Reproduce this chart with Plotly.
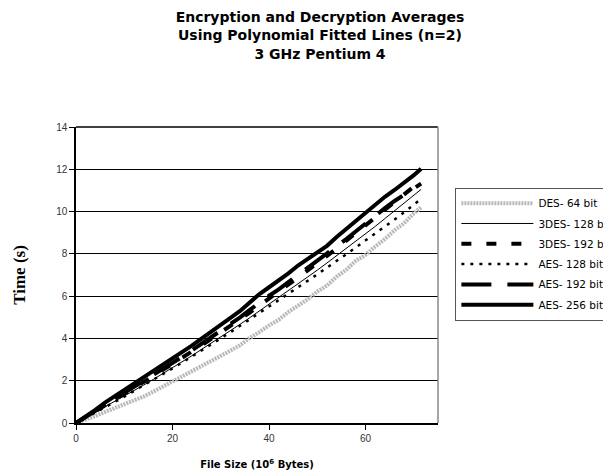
import plotly.graph_objects as go

# ---- data ----
file_size = [0, 2, 4, 6, 8, 10, 12, 14, 16, 18, 20, 22, 24, 26, 28, 30, 32, 34, 36,
             38, 40, 42, 44, 46, 48, 50, 52, 54, 56, 58, 60, 62, 64, 66, 68, 70, 71.5]

des_64 = [0.00, 0.15, 0.33, 0.52, 0.70, 0.86, 1.05, 1.25, 1.48, 1.72, 1.95, 2.18, 2.43,
          2.66, 2.92, 3.15, 3.42, 3.68, 4.02, 4.30, 4.62, 4.88, 5.25, 5.55, 5.85, 6.22,
          6.50, 6.92, 7.25, 7.68, 7.95, 8.35, 8.70, 9.12, 9.45, 9.92, 10.20]

des3_128 = [0.00, 0.25, 0.50, 0.75, 1.00, 1.27, 1.53, 1.79, 2.06, 2.33, 2.62, 2.90, 3.18,
            3.48, 3.77, 4.06, 4.35, 4.67, 4.98, 5.30, 5.62, 5.92, 6.24, 6.58, 6.90, 7.23,
            7.57, 7.91, 8.25, 8.60, 8.96, 9.30, 9.67, 10.04, 10.40, 10.78, 11.05]

des3_192 = [0.00, 0.27, 0.55, 0.83, 1.10, 1.38, 1.66, 1.94, 2.22, 2.50, 2.80, 3.08, 3.37,
            3.67, 3.98, 4.28, 4.58, 4.90, 5.22, 5.56, 5.88, 6.20, 6.54, 6.88, 7.22, 7.55,
            7.90, 8.25, 8.62, 8.98, 9.34, 9.70, 10.08, 10.45, 10.82, 11.18, 11.25]

aes_128 = [0.00, 0.24, 0.49, 0.74, 0.99, 1.25, 1.51, 1.77, 2.03, 2.30, 2.58, 2.86, 3.14,
           3.43, 3.72, 4.00, 4.29, 4.60, 4.90, 5.20, 5.50, 5.80, 6.10, 6.42, 6.72, 7.03,
           7.35, 7.66, 7.98, 8.30, 8.64, 8.96, 9.30, 9.62, 9.97, 10.32, 10.60]

aes_192 = [0.00, 0.28, 0.57, 0.88, 1.15, 1.42, 1.70, 1.97, 2.25, 2.55, 2.85, 3.13, 3.43,
           3.74, 4.05, 4.36, 4.68, 5.00, 5.35, 5.70, 6.02, 6.32, 6.66, 7.00, 7.32, 7.63,
           7.97, 8.35, 8.70, 9.07, 9.45, 9.80, 10.16, 10.50, 10.80, 11.10, 11.32]

aes_256 = [0.00, 0.30, 0.62, 0.96, 1.26, 1.55, 1.85, 2.13, 2.42, 2.74, 3.05, 3.35, 3.66,
           3.99, 4.30, 4.63, 4.97, 5.30, 5.72, 6.10, 6.42, 6.73, 7.08, 7.45, 7.75, 8.05,
           8.38, 8.80, 9.18, 9.55, 9.97, 10.33, 10.70, 11.02, 11.35, 11.72, 12.03]

series_names = ["DES- 64 bit", "3DES- 128 bit", "3DES- 192 bit",
                "AES- 128 bit", "AES- 192 bit", "AES- 256 bit"]

y_ticks = [0, 2, 4, 6, 8, 10, 12, 14]
x_ticks = [0, 20, 40, 60]

title_lines = ["Encryption and Decryption Averages",
               "Using Polynomial Fitted Lines (n=2)",
               "3 GHz Pentium 4"]

# ---- styles ----
styles = [
    dict(color="#b8b8b8", width=4, dash="2px,1px"),
    dict(color="#000000", width=1, dash="solid"),
    dict(color="#000000", width=4, dash="10px,15px"),
    dict(color="#000000", width=2.5, dash="3px,6px"),
    dict(color="#000000", width=4, dash="30px,16px"),
    dict(color="#000000", width=4, dash="solid"),
]

fig = go.Figure()
for i, (name, ys, st) in enumerate(zip(series_names,
                                       [des_64, des3_128, des3_192, aes_128, aes_192, aes_256],
                                       styles)):
    fig.add_trace(go.Scatter(x=file_size, y=ys, mode="lines", name=name, line=st,
                             legendgroup=f"g{i}"))

fig.update_layout(
    width=611, height=472,
    margin=dict(l=68, r=181, t=119, b=57, autoexpand=False),
    paper_bgcolor="white", plot_bgcolor="white",
    title=dict(
        text="<br>".join(title_lines),
        x=312 / 611, xanchor="center", xref="container",
        y=0.97, yanchor="top", yref="container",
        font=dict(family="DejaVu Sans", size=14, color="#000", weight="bold"),
    ),
    legend=dict(
        x=1.048, xanchor="left", y=0.795, yanchor="top",
        bgcolor="white", bordercolor="#555", borderwidth=1,
        font=dict(family="DejaVu Sans", size=10.5, color="#000"),
        itemwidth=72, tracegroupgap=1.3, traceorder="grouped",
    ),
    showlegend=True,
)

fig.update_xaxes(
    range=[0, 75], tickvals=x_ticks, ticks="outside", ticklen=5, tickcolor="#000",
    showline=True, linecolor="#000", linewidth=1.5, showgrid=False, zeroline=False,
    tickfont=dict(family="Liberation Sans", size=10, color="#333"),
    title=dict(text="File Size (10<sup>6</sup> Bytes)", standoff=18,
               font=dict(family="DejaVu Sans", size=10, color="#000", weight="bold")),
)
fig.update_yaxes(
    range=[0, 14], tickvals=y_ticks, ticks="outside", ticklen=5, tickcolor="#000",
    showline=True, linecolor="#000", linewidth=1.5, showgrid=True, gridcolor="#000",
    gridwidth=1, zeroline=False,
    tickfont=dict(family="Liberation Sans", size=10, color="#333"),
    title=dict(text="Time (s)", standoff=26,
               font=dict(family="Liberation Serif", size=17, color="#000", weight="bold")),
)

# plot-area frame: top black, right grey
fig.add_shape(type="line", xref="paper", yref="paper", x0=0, x1=1, y0=1, y1=1,
              line=dict(color="#000", width=1.5))
fig.add_shape(type="line", xref="paper", yref="paper", x0=1, x1=1, y0=0, y1=1,
              line=dict(color="#888", width=1.5))

fig.write_html("out.html")
